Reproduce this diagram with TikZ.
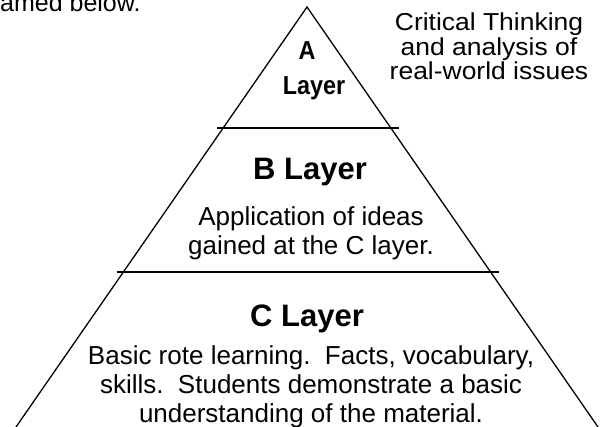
\documentclass[tikz,border=0pt]{standalone}
\usepackage{fontspec}
\setmainfont{Liberation Sans}
\newfontfamily\narrowfont[FakeStretch=0.9]{Liberation Sans}
\newfontfamily\widefont[FakeStretch=1.08]{Liberation Sans}
\usetikzlibrary{positioning}
\tikzset{
    x=1pt,
    y=-1pt,
    side/.style = {
        line width=1.3pt
    },
    rule/.style = {
        line width=1.3pt
    },
    head/.style = {
        inner sep=0pt,
        anchor=north,
        font=\bfseries\fontsize{31}{36}\selectfont
    },
    small head/.style = {
        head,
        font=\narrowfont\bfseries\fontsize{26}{30}\selectfont
    },
    note/.style = {
        inner sep=0pt,
        anchor=north,
        align=center,
        font=\fontsize{26}{29}\selectfont
    },
    side note/.style = {
        note,
        font=\widefont\fontsize{24.5}{24.5}\selectfont
    },
}
\begin{document}
\begin{tikzpicture}
                \useasboundingbox (0,0) rectangle (602,427);
                \clip (0,0) rectangle (602,427);

                \coordinate (apex) at (307,7);
                \coordinate (left) at (16,427);
                \coordinate (right) at (598,427);
                \coordinate (ab west) at (217,128);
                \coordinate (ab east) at (399,128);
                \coordinate (bc west) at (117,272);
                \coordinate (bc east) at (499,272);

                \node[note, anchor=base west, font=\fontsize{25}{28}\selectfont] (cut) at (0,12) {amed below.};

                \path[draw, side] (left) -- (apex) -- (right);
                \path[draw, rule] (ab west) -- (ab east);
                \path[draw, rule] (bc west) -- (bc east);

                \node[small head] (a) at (307,41) {A};
                \node[small head] (alayer) at (314,76) {Layer};
                \node[side note] (acap) at (489,13) {Critical Thinking\\and analysis of\\real-world issues};

                \node[head] (b) at (310,158) {B Layer};
                \node[note] (bcap) at (311,206) {Application of ideas\\gained at the C layer.};

                \node[head] (c) at (307,305) {C Layer};
                \node[note] (ccap) at (311,345) {Basic rote learning.\ \ Facts, vocabulary,\\skills.\ \ Students demonstrate a basic\\understanding of the material.};
            \end{tikzpicture}
\end{document}
